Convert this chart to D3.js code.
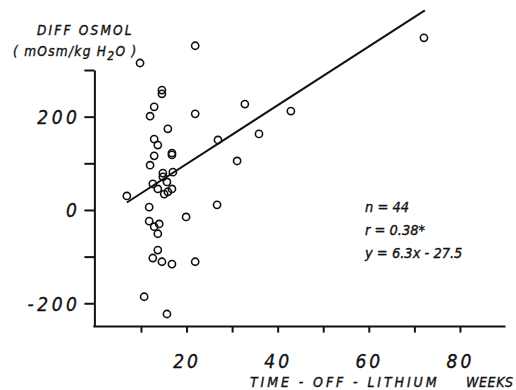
<!DOCTYPE html>
<html>
<head>
<meta charset="utf-8">
<script src="https://cdn.jsdelivr.net/npm/d3@7"></script>
<style>
  html, body { margin: 0; padding: 0; background: #fff; }
  svg text { font-family: "DejaVu Sans Condensed", "Liberation Sans Narrow", "DejaVu Sans", sans-serif; font-style: italic; fill: #111; stroke: #111; stroke-width: 0.35px; }
</style>
</head>
<body>
<div id="chart"></div>
<script>
// time off lithium (weeks)
const weeks = [9.8, 21.9, 14.6, 14.6, 12.9, 12.0, 21.9, 15.9, 32.8, 12.9, 26.9, 35.9, 42.9, 72.1,
  13.7, 12.9, 12.0, 16.8, 16.8, 31.1, 14.8, 14.8, 17.0, 12.6, 15.7, 13.7, 16.8, 15.9, 15.1, 6.9,
  11.8, 26.7, 19.9, 11.8, 14.0, 12.9, 13.7, 13.7, 12.6, 14.6, 16.8, 21.9, 10.7, 15.7];
// diff osmol (mOsm/kg H2O)
const diffOsmol = [315, 352, 257, 249, 221, 201, 206, 174, 227, 152, 150, 163, 212, 369,
  139, 116, 96, 122, 118, 105, 79, 71, 81, 56, 60, 45, 45, 39, 34, 30,
  6, 11, -15, -24, -30, -36, -51, -86, -103, -111, -116, -111, -186, -223];

const yTicks = [300, 200, 100, 0, -100, -200];
const yLabels = [200, 0, -200];
const xTicks = [10, 20, 30, 40, 50, 60, 70, 80];
const xLabels = [20, 40, 60, 80];
const fitRange = [6.9, 72.3];
const slope = 6.3, intercept = -27.5;
const stats = ["n = 44", "r = 0.38*", "y = 6.3x - 27.5"];

const width = 516, height = 390;

const svg = d3.select("#chart").append("svg")
  .attr("width", width)
  .attr("height", height);

const x = d3.scaleLinear().domain([0, 90]).range([95.4, 505.5]);
const y = d3.scaleLinear().domain([-250, 300]).range([326.6, 70]);

// y axis
const yAxis = svg.append("g")
  .attr("transform", `translate(${x(0) - 1},0)`)
  .call(d3.axisLeft(y).tickValues(yTicks).tickSize(10).tickSizeOuter(0)
    .tickPadding(4)
    .tickFormat(d => yLabels.includes(d) ? (d < 0 ? "-" + Math.abs(d) : d) : ""));
yAxis.selectAll("path, line").attr("stroke", "#111").attr("stroke-width", 2);
yAxis.selectAll("text").attr("font-size", 19).attr("letter-spacing", 3.5).attr("dy", "0.36em")
  .style("font-family", "DejaVu Sans Condensed, DejaVu Sans, sans-serif");

// x axis
const xAxis = svg.append("g")
  .attr("transform", `translate(0,${y(-250)})`)
  .call(d3.axisBottom(x).tickValues(xTicks).tickSize(6).tickSizeOuter(0)
    .tickPadding(22)
    .tickFormat(d => xLabels.includes(d) ? d : ""));
xAxis.selectAll("path, line").attr("stroke", "#111").attr("stroke-width", 2);
xAxis.select(".domain").attr("d", `M${x(0) - 2},0H${x(90)}`);
xAxis.selectAll("text").attr("font-size", 19).attr("letter-spacing", 3);

// regression line
svg.append("line")
  .attr("x1", x(fitRange[0])).attr("y1", y(slope * fitRange[0] + intercept))
  .attr("x2", x(fitRange[1])).attr("y2", y(slope * fitRange[1] + intercept))
  .attr("stroke", "#111").attr("stroke-width", 2);

// points
svg.selectAll("circle.pt")
  .data(weeks.map((w, i) => ({ w, v: diffOsmol[i] })))
  .enter().append("circle")
  .attr("class", "pt")
  .attr("cx", d => x(d.w))
  .attr("cy", d => y(d.v))
  .attr("r", 3.6)
  .attr("fill", "none")
  .attr("stroke", "#111")
  .attr("stroke-width", 1.6);

// y axis title
svg.append("text").attr("x", 37).attr("y", 35)
  .attr("font-size", 13.5).attr("letter-spacing", 2.2)
  .text("DIFF  OSMOL");
const unit = svg.append("text").attr("x", 13).attr("y", 56)
  .attr("font-size", 13.5).attr("letter-spacing", 1.3);
unit.append("tspan").text("( mOsm/kg H");
unit.append("tspan").attr("dy", 4).attr("font-size", 12).text("2");
unit.append("tspan").attr("dy", -4).text("O )");

// x axis title
svg.append("text").attr("x", 250).attr("y", 387)
  .attr("font-size", 14).attr("letter-spacing", 2.9)
  .text("TIME - OFF -  LITHIUM");
svg.append("text").attr("x", 466).attr("y", 387)
  .attr("font-size", 14).attr("letter-spacing", 0.6)
  .text("WEEKS");

// stats
svg.selectAll("text.stat")
  .data(stats)
  .enter().append("text")
  .attr("class", "stat")
  .attr("x", 365)
  .attr("y", (d, i) => 212 + i * 23)
  .attr("font-size", 14.5)
  .text(d => d);
</script>
</body>
</html>
